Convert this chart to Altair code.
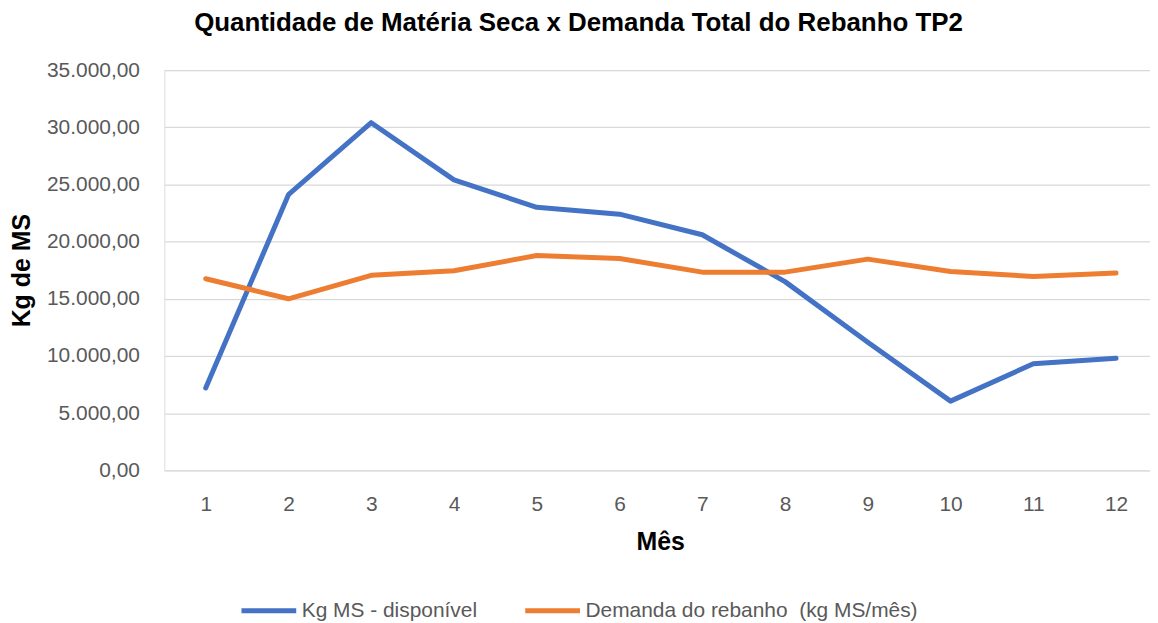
import altair as alt
import pandas as pd

meses = [1, 2, 3, 4, 5, 6, 7, 8, 9, 10, 11, 12]
kg_ms_disponivel = [7200, 24100, 30400, 25400, 23000, 22400, 20600, 16500, 11200, 6050, 9320, 9800]
demanda_rebanho = [16750, 15000, 17050, 17450, 18780, 18520, 17330, 17330, 18470, 17390, 16950, 17250]
series_names = ["Kg MS - disponível", "Demanda do rebanho \u00a0(kg MS/mês)"]
series_colors = ["#4472C4", "#ED7D31"]
y_ticks = [0, 5000, 10000, 15000, 20000, 25000, 30000, 35000]

rows = []
for m, a, b in zip(meses, kg_ms_disponivel, demanda_rebanho):
    rows.append({"Mês": m, "serie": series_names[0], "valor": a, "ordem": 0})
    rows.append({"Mês": m, "serie": series_names[1], "valor": b, "ordem": 1})
df = pd.DataFrame(rows)

FONT = "Liberation Sans"
label_expr = ("replace(replace(replace(format(datum.value, ',.2f'), ',', '#'), '.', ','), '#', '.')")

chart = alt.Chart(df).mark_line(strokeWidth=5, strokeCap="round", strokeJoin="round").encode(
    x=alt.X("Mês:Q", title="Mês",
            scale=alt.Scale(domain=[0.5, 12.41], nice=False, zero=False),
            axis=alt.Axis(values=meses, format="d", labelAngle=0, grid=False, domain=False,
                          ticks=False, labelFlush=False,
                          labelFont=FONT, labelFontSize=21, labelColor="#595959",
                          labelPadding=23,
                          titleFont=FONT, titleFontSize=25, titleFontWeight="bold",
                          titleColor="#000000", titleBaseline="middle",
                          titleY=72, titleX=498)),
    y=alt.Y("valor:Q", title="Kg de MS",
            scale=alt.Scale(domain=[0, 35000], nice=False),
            axis=alt.Axis(values=y_ticks, labelExpr=label_expr, domain=False, ticks=False,
                          gridColor="#D9D9D9", gridWidth=1.3,
                          labelFont=FONT, labelFontSize=21, labelColor="#595959",
                          labelPadding=25,
                          titleFont=FONT, titleFontSize=25, titleFontWeight="bold",
                          titleColor="#000000", titleAngle=270, titleBaseline="middle",
                          titleAlign="center", titleX=-143, titleY=201)),
    color=alt.Color("serie:N", sort=series_names,
                    scale=alt.Scale(domain=series_names, range=series_colors),
                    legend=alt.Legend(title=None, orient="none", direction="horizontal",
                                      legendX=75, legendY=513,
                                      symbolType="stroke", symbolSize=3025,
                                      symbolStrokeWidth=5, labelOffset=3,
                                      columnPadding=37, labelLimit=0,
                                      labelFont=FONT, labelFontSize=21,
                                      labelColor="#595959")),
    order="ordem:Q",
).properties(
    width=990,
    height=402,
    title=alt.TitleParams("Quantidade de Matéria Seca x Demanda Total do Rebanho TP2",
                          font=FONT, fontSize=26, fontWeight="bold", color="#000000",
                          anchor="middle", dx=-79, offset=23),
    autosize=alt.AutoSizeParams(type="none"),
    padding={"left": 157, "top": 61, "right": 0, "bottom": 150},
).configure_view(stroke=None).configure(background="white")

chart.save("out.html", embed_options={"renderer": "svg", "actions": False})
